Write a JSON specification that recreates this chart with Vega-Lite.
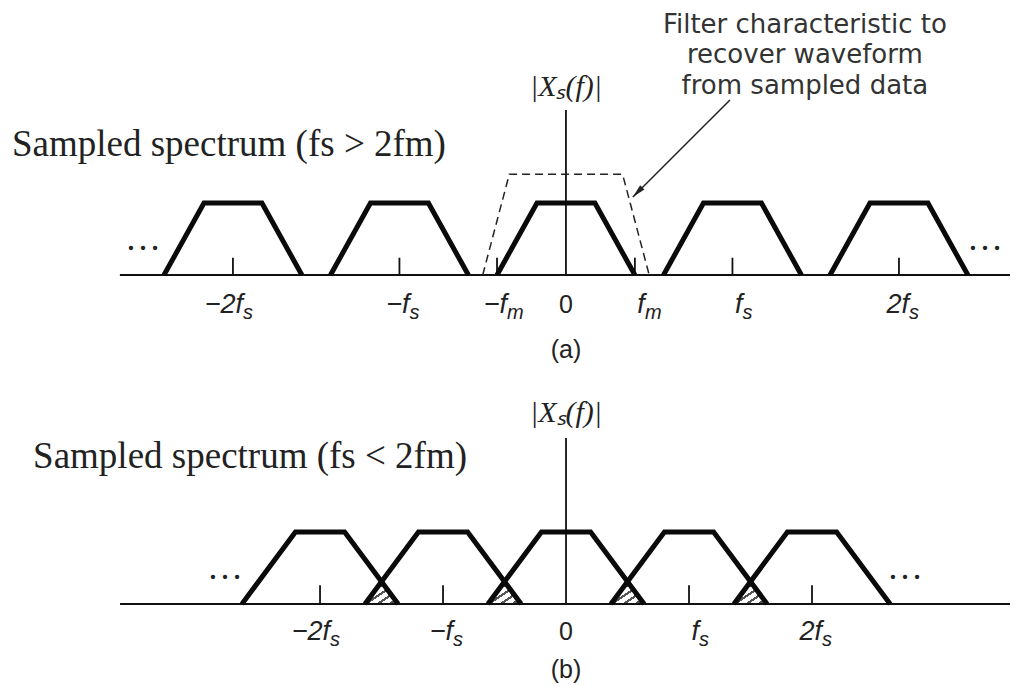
{
  "$schema": "https://vega.github.io/schema/vega-lite/v6.json",
  "padding": 0,
  "spacing": 0,
  "background": "white",
  "config": {"view": {"stroke": null}},
  "vconcat": [
    {
      "width": 1027,
      "height": 365,
      "encoding": {
        "x": {"field": "x", "type": "quantitative", "scale": {"domain": [-3.399, 2.769], "nice": false, "zero": false}, "axis": null},
        "y": {"field": "y", "type": "quantitative", "scale": {"domain": [-1.25, 3.819], "nice": false, "zero": false}, "axis": null}
      },
      "layer": [
        {"data": {"values": [{"x": -2.679, "y": 0}, {"x": 2.667, "y": 0}]}, "mark": {"type": "line", "color": "#111", "strokeWidth": 2}},
        {"data": {"values": [{"x": 0, "y": 0, "y2": 2.29}, {"x": -2, "y": 0, "y2": 0.24}, {"x": -1, "y": 0, "y2": 0.24}, {"x": -0.414, "y": 0, "y2": 0.24}, {"x": 0.414, "y": 0, "y2": 0.24}, {"x": 1, "y": 0, "y2": 0.24}, {"x": 2, "y": 0, "y2": 0.24}]},
         "mark": {"type": "rule", "color": "#111", "strokeWidth": 1.8}, "encoding": {"y2": {"field": "y2"}}},
        {"data": {"values": [{"x": -0.5, "y": 0}, {"x": -0.34, "y": 1.4}, {"x": 0.34, "y": 1.4}, {"x": 0.5, "y": 0}]},
         "mark": {"type": "line", "color": "#222", "strokeWidth": 1.5, "strokeDash": [8, 5]}},
        {"data": {"values": [
          {"k": -2, "x": -2.414, "y": 0}, {"k": -2, "x": -2.174, "y": 1}, {"k": -2, "x": -1.826, "y": 1}, {"k": -2, "x": -1.586, "y": 0},
          {"k": -1, "x": -1.414, "y": 0}, {"k": -1, "x": -1.174, "y": 1}, {"k": -1, "x": -0.826, "y": 1}, {"k": -1, "x": -0.586, "y": 0},
          {"k": 0, "x": -0.414, "y": 0}, {"k": 0, "x": -0.174, "y": 1}, {"k": 0, "x": 0.174, "y": 1}, {"k": 0, "x": 0.414, "y": 0},
          {"k": 1, "x": 0.586, "y": 0}, {"k": 1, "x": 0.826, "y": 1}, {"k": 1, "x": 1.174, "y": 1}, {"k": 1, "x": 1.414, "y": 0},
          {"k": 2, "x": 1.586, "y": 0}, {"k": 2, "x": 1.826, "y": 1}, {"k": 2, "x": 2.174, "y": 1}, {"k": 2, "x": 2.414, "y": 0}
        ]}, "mark": {"type": "line", "color": "#0a0a0a", "strokeWidth": 5, "strokeJoin": "miter"}, "encoding": {"detail": {"field": "k"}}},
        {"data": {"values": [{"x": 0.402, "y": 1.083}, {"x": 0.985, "y": 2.43}]}, "mark": {"type": "line", "color": "#222", "strokeWidth": 1.5}},
        {"data": {"values": [{"x": 0.43, "y": 1.15}]}, "mark": {"type": "point", "shape": "M0,-1L0.45,1L-0.45,1Z", "filled": true, "color": "#222", "size": 180, "angle": 225, "opacity": 1}},
        {"data": {"values": [{"x": -3.327, "y": 1.806, "t": "Sampled spectrum (fs > 2fm)"}]},
         "mark": {"type": "text", "align": "left", "baseline": "middle", "font": "Liberation Serif", "fontSize": 37, "color": "#222"}, "encoding": {"text": {"field": "t"}}},
        {"data": {"values": [{"x": 0, "y": 2.61, "t": "|Xₛ(f)|"}]},
         "mark": {"type": "text", "align": "center", "baseline": "middle", "font": "Liberation Serif", "fontStyle": "italic", "fontSize": 30, "color": "#222"}, "encoding": {"text": {"field": "t"}}},
        {"data": {"values": [{"x": 1.435, "y": 3.47, "t": "Filter characteristic to"}, {"x": 1.435, "y": 3.06, "t": "recover waveform"}, {"x": 1.435, "y": 2.63, "t": "from sampled data"}]},
         "mark": {"type": "text", "align": "center", "baseline": "middle", "font": "DejaVu Sans", "fontSize": 26, "color": "#333"}, "encoding": {"text": {"field": "t"}}},
        {"data": {"values": [{"x": -2.54, "y": 0.5, "t": "…"}, {"x": 2.517, "y": 0.5, "t": "…"}]},
         "mark": {"type": "text", "align": "center", "baseline": "middle", "font": "Liberation Serif", "fontSize": 36, "color": "#222"}, "encoding": {"text": {"field": "t"}}},
        {"data": {"values": [{"x": 0, "y": -0.42, "t": "0"}, {"x": 0, "y": -1.04, "t": "(a)"}]},
         "mark": {"type": "text", "align": "center", "baseline": "middle", "font": "Liberation Sans", "fontSize": 25, "color": "#222"}, "encoding": {"text": {"field": "t"}}},
        {"data": {"values": [{"x": -2, "y": -0.42, "t": "−2f"}, {"x": -1, "y": -0.42, "t": "−f"}, {"x": -0.414, "y": -0.42, "t": "−f"}, {"x": 0.414, "y": -0.42, "t": "f"}, {"x": 1, "y": -0.42, "t": "f"}, {"x": 2, "y": -0.42, "t": "2f"}]},
         "mark": {"type": "text", "align": "right", "baseline": "middle", "dx": 10, "font": "Liberation Sans", "fontStyle": "italic", "fontSize": 27, "color": "#222"}, "encoding": {"text": {"field": "t"}}},
        {"data": {"values": [{"x": -2, "y": -0.42, "t": "s"}, {"x": -1, "y": -0.42, "t": "s"}, {"x": -0.414, "y": -0.42, "t": "m"}, {"x": 0.414, "y": -0.42, "t": "m"}, {"x": 1, "y": -0.42, "t": "s"}, {"x": 2, "y": -0.42, "t": "s"}]},
         "mark": {"type": "text", "align": "left", "baseline": "middle", "dx": 10, "dy": 8, "font": "Liberation Sans", "fontStyle": "italic", "fontSize": 20, "color": "#222"}, "encoding": {"text": {"field": "t"}}}
      ]
    },
    {
      "width": 1027,
      "height": 322,
      "encoding": {
        "x": {"field": "x", "type": "quantitative", "scale": {"domain": [-4.602, 3.748], "nice": false, "zero": false}, "axis": null},
        "y": {"field": "y", "type": "quantitative", "scale": {"domain": [-1.153, 3.319], "nice": false, "zero": false}, "axis": null}
      },
      "layer": [
        {"data": {"values": [
          {"c": -1.5, "x": -1.635, "y": 0}, {"c": -1.5, "x": -1.5, "y": 0.31}, {"c": -1.5, "x": -1.365, "y": 0},
          {"c": -0.5, "x": -0.635, "y": 0}, {"c": -0.5, "x": -0.5, "y": 0.31}, {"c": -0.5, "x": -0.365, "y": 0},
          {"c": 0.5, "x": 0.365, "y": 0}, {"c": 0.5, "x": 0.5, "y": 0.31}, {"c": 0.5, "x": 0.635, "y": 0},
          {"c": 1.5, "x": 1.365, "y": 0}, {"c": 1.5, "x": 1.5, "y": 0.31}, {"c": 1.5, "x": 1.635, "y": 0}
        ]},
         "mark": {"type": "area", "fill": {"gradient": "linear", "x1": 0, "y1": 0, "x2": 1, "y2": 1, "stops": [
           {"offset": 0, "color": "#ffffff"}, {"offset": 0.12, "color": "#ffffff"}, {"offset": 0.12, "color": "#555555"}, {"offset": 0.18, "color": "#555555"},
           {"offset": 0.18, "color": "#ffffff"}, {"offset": 0.3, "color": "#ffffff"}, {"offset": 0.3, "color": "#555555"}, {"offset": 0.36, "color": "#555555"},
           {"offset": 0.36, "color": "#ffffff"}, {"offset": 0.48, "color": "#ffffff"}, {"offset": 0.48, "color": "#555555"}, {"offset": 0.54, "color": "#555555"},
           {"offset": 0.54, "color": "#ffffff"}, {"offset": 0.66, "color": "#ffffff"}, {"offset": 0.66, "color": "#555555"}, {"offset": 0.72, "color": "#555555"},
           {"offset": 0.72, "color": "#ffffff"}, {"offset": 0.84, "color": "#ffffff"}, {"offset": 0.84, "color": "#555555"}, {"offset": 0.9, "color": "#555555"},
           {"offset": 0.9, "color": "#ffffff"}, {"offset": 1, "color": "#ffffff"}]}},
         "encoding": {"detail": {"field": "c"}, "y": {"field": "y", "type": "quantitative", "stack": null, "scale": {"domain": [-1.153, 3.319], "nice": false, "zero": false}, "axis": null}}},
        {"data": {"values": [{"x": -3.626, "y": 0}, {"x": 3.61, "y": 0}]}, "mark": {"type": "line", "color": "#111", "strokeWidth": 2}},
        {"data": {"values": [{"x": 0, "y": 0, "y2": 2.306}, {"x": -2, "y": 0, "y2": 0.26}, {"x": -1, "y": 0, "y2": 0.26}, {"x": 1, "y": 0, "y2": 0.26}, {"x": 2, "y": 0, "y2": 0.26}]},
         "mark": {"type": "rule", "color": "#111", "strokeWidth": 1.8}, "encoding": {"y2": {"field": "y2"}}},
        {"data": {"values": [
          {"k": -2, "x": -2.635, "y": 0}, {"k": -2, "x": -2.2, "y": 1}, {"k": -2, "x": -1.8, "y": 1}, {"k": -2, "x": -1.365, "y": 0},
          {"k": -1, "x": -1.635, "y": 0}, {"k": -1, "x": -1.2, "y": 1}, {"k": -1, "x": -0.8, "y": 1}, {"k": -1, "x": -0.365, "y": 0},
          {"k": 0, "x": -0.635, "y": 0}, {"k": 0, "x": -0.2, "y": 1}, {"k": 0, "x": 0.2, "y": 1}, {"k": 0, "x": 0.635, "y": 0},
          {"k": 1, "x": 0.365, "y": 0}, {"k": 1, "x": 0.8, "y": 1}, {"k": 1, "x": 1.2, "y": 1}, {"k": 1, "x": 1.635, "y": 0},
          {"k": 2, "x": 1.365, "y": 0}, {"k": 2, "x": 1.8, "y": 1}, {"k": 2, "x": 2.2, "y": 1}, {"k": 2, "x": 2.635, "y": 0}
        ]}, "mark": {"type": "line", "color": "#0a0a0a", "strokeWidth": 5, "strokeJoin": "miter"}, "encoding": {"detail": {"field": "k"}}},
        {"data": {"values": [{"x": -4.333, "y": 2.042, "t": "Sampled spectrum (fs < 2fm)"}]},
         "mark": {"type": "text", "align": "left", "baseline": "middle", "font": "Liberation Serif", "fontSize": 37, "color": "#222"}, "encoding": {"text": {"field": "t"}}},
        {"data": {"values": [{"x": 0, "y": 2.653, "t": "|Xₛ(f)|"}]},
         "mark": {"type": "text", "align": "center", "baseline": "middle", "font": "Liberation Serif", "fontStyle": "italic", "fontSize": 30, "color": "#222"}, "encoding": {"text": {"field": "t"}}},
        {"data": {"values": [{"x": -2.772, "y": 0.5, "t": "…"}, {"x": 2.756, "y": 0.5, "t": "…"}]},
         "mark": {"type": "text", "align": "center", "baseline": "middle", "font": "Liberation Serif", "fontSize": 36, "color": "#222"}, "encoding": {"text": {"field": "t"}}},
        {"data": {"values": [{"x": 0, "y": -0.39, "t": "0"}, {"x": 0, "y": -0.917, "t": "(b)"}]},
         "mark": {"type": "text", "align": "center", "baseline": "middle", "font": "Liberation Sans", "fontSize": 25, "color": "#222"}, "encoding": {"text": {"field": "t"}}},
        {"data": {"values": [{"x": -2, "y": -0.39, "t": "−2f"}, {"x": -1, "y": -0.39, "t": "−f"}, {"x": 1, "y": -0.39, "t": "f"}, {"x": 2, "y": -0.39, "t": "2f"}]},
         "mark": {"type": "text", "align": "right", "baseline": "middle", "dx": 10, "font": "Liberation Sans", "fontStyle": "italic", "fontSize": 27, "color": "#222"}, "encoding": {"text": {"field": "t"}}},
        {"data": {"values": [{"x": -2, "y": -0.39, "t": "s"}, {"x": -1, "y": -0.39, "t": "s"}, {"x": 1, "y": -0.39, "t": "s"}, {"x": 2, "y": -0.39, "t": "s"}]},
         "mark": {"type": "text", "align": "left", "baseline": "middle", "dx": 10, "dy": 8, "font": "Liberation Sans", "fontStyle": "italic", "fontSize": 20, "color": "#222"}, "encoding": {"text": {"field": "t"}}}
      ]
    }
  ]
}
